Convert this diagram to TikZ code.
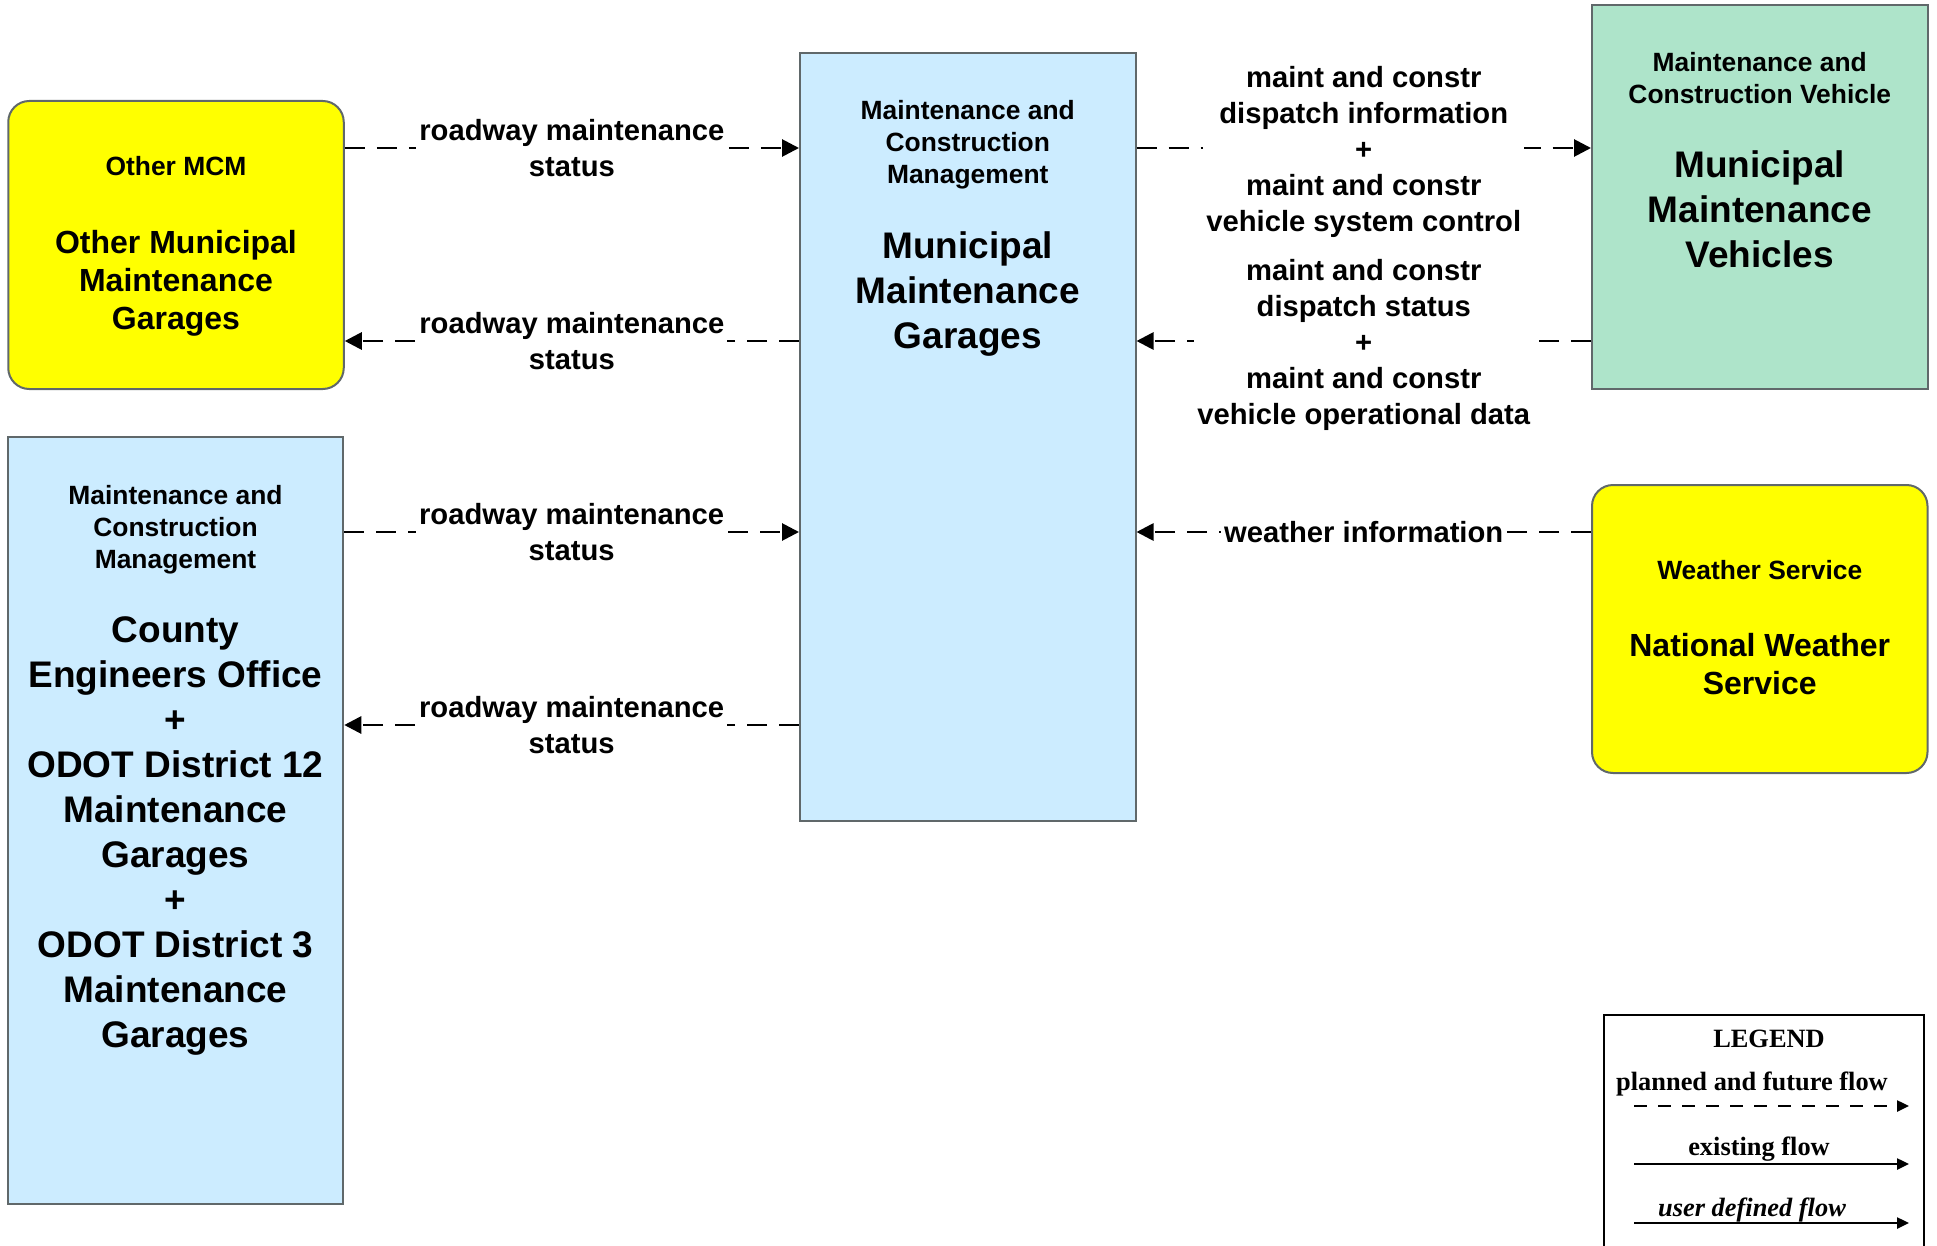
\documentclass[tikz,border=0pt]{standalone}
\usepackage{fontspec}
\setmainfont{Liberation Sans}
\newfontfamily\legendfont{Liberation Serif}
\usetikzlibrary{arrows.meta,positioning}

\definecolor{edgegray}{RGB}{96,104,106}
\definecolor{mcmblue}{RGB}{204,236,255}
\definecolor{vehgreen}{RGB}{174,228,202}
\definecolor{termyellow}{RGB}{255,255,0}

\tikzset{
  sysbox/.style={draw=edgegray, line width=1pt, inner sep=0pt, minimum width=167.75pt},
  termbox/.style={sysbox, rounded corners=10.5pt, fill=termyellow, minimum height=144pt},
  hdrtext/.style={align=center, inner sep=0pt, font=\fontsize{13.2}{16}\selectfont\bfseries},
  bigtext/.style={align=center, inner sep=0pt, font=\fontsize{18.5}{22.5}\selectfont\bfseries},
  midtext/.style={align=center, inner sep=0pt, font=\fontsize{16}{19}\selectfont\bfseries},
  flowlbl/.style={fill=white, align=center, inner sep=1.5pt, font=\fontsize{14.6}{18}\selectfont\bfseries},
  planned/.style={line width=1.4pt, dash pattern=on 10pt off 6pt, -{Triangle[length=8.5pt,width=8.5pt]}},
  lgdflow/.style={line width=1.2pt, -{Triangle[length=6pt,width=5.5pt]}},
  lgdtext/.style={inner sep=0pt, font=\legendfont\fontsize{13.2}{16}\selectfont\bfseries},
}

\begin{document}
\begin{tikzpicture}[x=0.5pt,y=0.5pt,yscale=-1,xscale=1]
\useasboundingbox (0,0) rectangle (1937,1246);

%Shape: Rectangle (other MCM)
\node[termbox] (omcm) at (176,245) {};
\node[hdrtext] (omcmhdr) at (176,166) {Other MCM};
\node[midtext] (omcmtxt) at (176,283) {Other Municipal\\Maintenance\\Garages};

%Shape: Rectangle (county and ODOT)
\node[sysbox, fill=mcmblue, minimum height=383.5pt] (county) at (175.5,820.5) {};
\node[hdrtext] (countyhdr) at (175.5,530) {Maintenance and\\Construction\\Management};
\node[bigtext] (countytxt) at (175.5,836) {County\\Engineers Office\\+\\ODOT District 12\\Maintenance\\Garages\\+\\ODOT District 3\\Maintenance\\Garages};

%Shape: Rectangle (municipal garages)
\node[sysbox, fill=mcmblue, minimum height=384pt] (mmg) at (967.75,437) {};
\node[hdrtext] (mmghdr) at (967.75,145) {Maintenance and\\Construction\\Management};
\node[bigtext] (mmgtxt) at (967.75,294) {Municipal\\Maintenance\\Garages};

%Shape: Rectangle (vehicles)
\node[sysbox, fill=vehgreen, minimum height=192pt] (mmv) at (1759.75,197) {};
\node[hdrtext] (mmvhdr) at (1759.75,78) {Maintenance and\\Construction Vehicle};
\node[bigtext] (mmvtxt) at (1759.75,209) {Municipal\\Maintenance\\Vehicles};

%Shape: Rectangle (weather)
\node[termbox] (nws) at (1759.75,629) {};
\node[hdrtext] (nwshdr) at (1759.75,570) {Weather Service};
\node[midtext] (nwstxt) at (1759.75,664) {National Weather\\Service};

%Straight Lines
\draw[planned] (omcm.east |- 0,148) -- (mmg.west |- 0,148)
  node[flowlbl, midway] {roadway maintenance\\status};
\draw[planned] (mmg.west |- 0,341) -- (omcm.east |- 0,341)
  node[flowlbl, midway] {roadway maintenance\\status};
\draw[planned] (county.east |- 0,532) -- (mmg.west |- 0,532)
  node[flowlbl, midway] {roadway maintenance\\status};
\draw[planned] (mmg.west |- 0,725) -- (county.east |- 0,725)
  node[flowlbl, midway] {roadway maintenance\\status};

\draw[planned] (mmg.east |- 0,148) -- (mmv.west |- 0,148)
  node[flowlbl, midway, yshift=-2pt] {maint and constr\\dispatch information\\+\\maint and constr\\vehicle system control};
\draw[planned] (mmv.west |- 0,341) -- (mmg.east |- 0,341)
  node[flowlbl, midway, yshift=-2pt] {maint and constr\\dispatch status\\+\\maint and constr\\vehicle operational data};
\draw[planned] (nws.west |- 0,532) -- (mmg.east |- 0,532)
  node[flowlbl, midway] {weather information};

%Legend
\node[draw, line width=1.2pt, inner sep=0pt, minimum width=160pt, minimum height=140pt, anchor=north west] (legend) at (1603,1014) {};
\node[lgdtext] (lgdtitle) at (1769,1039) {LEGEND};
\node[lgdtext] (lgdplan) at (1752,1084) {planned and future flow};
\coordinate (plana) at (1634,1106);
\coordinate (planb) at (1909,1106);
\draw[lgdflow, dash pattern=on 6.5pt off 5.5pt] (plana) -- (planb);
\node[lgdtext] (lgdexist) at (1759,1149) {existing flow};
\coordinate (exista) at (1634,1164);
\coordinate (existb) at (1909,1164);
\draw[lgdflow] (exista) -- (existb);
\node[lgdtext, font=\legendfont\fontsize{13.2}{16}\selectfont\bfseries\itshape] (lgduser) at (1752,1210) {user defined flow};
\coordinate (usera) at (1634,1223);
\coordinate (userb) at (1909,1223);
\draw[lgdflow] (usera) -- (userb);

\end{tikzpicture}
\end{document}
